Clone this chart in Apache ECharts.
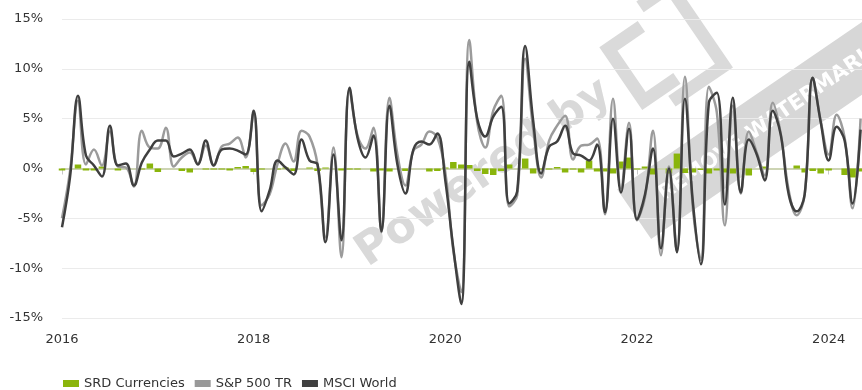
<!DOCTYPE html>
<html>
<head>
<meta charset="utf-8">
<script src="https://cdn.jsdelivr.net/npm/echarts@6/dist/echarts.min.js"></script>
<style>
  html, body { margin: 0; padding: 0; background: #ffffff; }
  #chart { width: 862px; height: 390px; }
</style>
</head>
<body>
<div id="chart"></div>
<script>
// Monthly returns (%) from January 2016 to May 2024
const firstMonth = { year: 2016, month: 1 };
const monthCount = 101;

const srdCurrencies = [
  -0.2, 0, 0.4, -0.2, -0.2, 0.2, 0, -0.2, 0, 0, -0.1, 0.5,
  -0.35, 0, 0, -0.25, -0.4, 0, -0.1, -0.1, -0.1, -0.2, 0.15, 0.25,
  -0.35, -0.1, 0, -0.1, 0.1, -0.25, 0, 0.1, -0.25, 0.1, 0, -0.2,
  -0.1, -0.1, 0, -0.3, -0.2, -0.3, 0, -0.25, 0, 0, -0.3, -0.25,
  0.1, 0.65, 0.4, 0.35, -0.25, -0.55, -0.65, -0.25, 0.4, 0, 1.0, -0.5,
  -0.1, -0.1, 0.15, -0.4, -0.1, -0.4, 0.8, -0.3, -0.3, -0.5, 0.7, 1.1,
  -0.1, 0.2, -0.6, 0, -0.5, 1.5, -0.45, -0.4, -0.15, -0.5, -0.2, -0.4,
  -0.5, 0, -0.7, 0, 0.2, 0, 0, 0, 0.3, -0.4, -0.25, -0.5,
  -0.2, 0, -0.65, -0.9, -0.3
];

const sp500TR = [
  -5.0, -0.3, 6.8, 0.4, 1.9, 0.3, 3.7, 0.2, 0.1, -1.8, 3.8, 2.1,
  2.0, 4.1, 0.2, 1.1, 1.6, 0.5, 2.3, 0.3, 2.2, 2.5, 3.1, 1.1,
  5.6, -3.7, -2.6, 0.5, 2.5, 0.7, 3.8, 3.2, 0.4, -6.9, 2.1, -8.9,
  8.0, 3.3, 2.0, 4.1, -6.4, 7.1, 1.4, -1.7, 1.8, 2.4, 3.7, 3.1,
  -0.4, -8.2, -12.4, 12.9, 4.6, 2.1, 5.8, 7.3, -3.8, -2.7, 11.0, 4.0,
  -0.9, 2.8, 4.3, 5.3, 0.9, 2.3, 2.4, 3.0, -4.6, 7.0, -2.0, 4.6,
  -5.2, -2.9, 3.8, -8.7, 0.2, -8.3, 9.2, -4.0, -9.2, 8.2, 5.6, -5.7,
  6.3, -2.5, 3.7, 1.6, -0.7, 6.6, 3.5, -2.2, -4.7, -2.6, 9.1, 4.8,
  1.4, 5.4, 3.1, -4.0, 5.0
];

const msciWorld = [
  -5.9, -0.9, 7.3, 1.3, 0.3, -0.8, 4.3, 0.3, 0.5, -1.7, 0.6, 1.9,
  2.8, 2.8, 1.2, 1.5, 1.9, 0.4, 2.8, 0.3, 1.9, 2.0, 1.8, 1.4,
  5.8, -4.3, -2.2, 0.8, 0.1, -0.6, 2.9, 0.8, 0.4, -7.4, 1.4, -7.2,
  8.1, 3.1, 1.1, 3.3, -6.3, 6.3, 0.4, -2.5, 1.9, 2.7, 2.4, 3.5,
  -1.2, -8.0, -13.6, 10.7, 5.0, 3.2, 5.2, 6.2, -3.5, -2.3, 12.3, 4.8,
  -0.5, 2.2, 2.7, 4.3, 1.5, 1.3, 0.8, 2.4, -4.4, 5.0, -2.4, 4.0,
  -5.1, -2.6, 2.0, -8.0, 0.0, -8.4, 7.0, -3.4, -9.6, 6.6, 7.6, -3.6,
  7.1, -2.4, 2.9, 1.4, -1.2, 5.8, 3.4, -2.6, -4.3, -2.6, 9.1, 4.7,
  0.8, 4.2, 2.8, -3.5, 3.9
];

const seriesNames = ['SRD Currencies', 'S&P 500 TR', 'MSCI World'];
const yTicks = { min: -15, max: 15, step: 5 };
const xTicks = { min: 2016, max: 2024.348, step: 2 };

// Month positions as fractional years (Jan = .0, Feb = 1/12, ...)
const monthPositions = [];
for (let i = 0; i < monthCount; i++) {
  const m = firstMonth.month - 1 + i;
  const year = firstMonth.year + Math.floor(m / 12);
  monthPositions.push(year + (m % 12) / 12);
}
const pair = (vals) => vals.map((v, i) => [monthPositions[i], v]);

const FONT = 'DejaVu Sans';
const chart = echarts.init(document.getElementById('chart'), null, { renderer: 'canvas' });

chart.setOption({
  animation: false,
  backgroundColor: '#ffffff',
  textStyle: { fontFamily: FONT },
  grid: { left: 62, right: 0, top: 19, bottom: 72, containLabel: false },
  legend: {
    data: seriesNames,
    left: 58,
    top: 372,
    icon: 'rect',
    itemWidth: 16,
    itemHeight: 7,
    itemGap: 10,
    textStyle: { fontFamily: FONT, fontSize: 13, color: '#333333' }
  },
  xAxis: {
    type: 'value',
    min: xTicks.min,
    max: xTicks.max,
    interval: xTicks.step,
    axisLine: { show: true, lineStyle: { color: '#c8c8c8', width: 2 } },
    axisTick: { show: true, length: 6, lineStyle: { color: '#c8c8c8', width: 1 } },
    axisLabel: {
      fontFamily: FONT, fontSize: 13, color: '#333333', margin: 15,
      showMaxLabel: false,
      formatter: (v) => String(Math.round(v))
    },
    splitLine: { show: false }
  },
  yAxis: {
    type: 'value',
    min: yTicks.min,
    max: yTicks.max,
    interval: yTicks.step,
    axisLine: { show: false },
    axisTick: { show: false },
    axisLabel: { fontFamily: FONT, fontSize: 13, color: '#333333', margin: 19, formatter: '{value}%' },
    splitLine: { show: true, lineStyle: { color: '#ebebeb', width: 1 } }
  },
  graphic: {
    elements: [
      {
        type: 'group',
        x: 368,
        y: 268,
        rotation: 0.6,
        z: -10,
        silent: true,
        children: [
          {
            type: 'rect',
            z: -10,
            shape: { x: 250, y: 76, width: 420, height: 60 },
            style: { fill: '#d7d7d7' }
          },
          {
            type: 'text',
            z: -9,
            style: {
              text: 'REMOVE WATERMARK', x: 282, y: 106,
              font: 'bold 21px "DejaVu Sans"', fill: '#ffffff', verticalAlign: 'middle', align: 'left'
            }
          },
          {
            type: 'text',
            z: -9,
            style: {
              text: 'Powered by', x: 0, y: 10,
              font: 'bold 45px "DejaVu Sans"', fill: '#d9d9d9', verticalAlign: 'bottom', align: 'left'
            }
          },
          {
            type: 'polyline',
            z: -9,
            shape: { points: [[362, -45], [322, -45], [322, 18], [362, 18]] },
            style: { stroke: '#dadada', lineWidth: 13, fill: null }
          },
          {
            type: 'polyline',
            z: -9,
            shape: { points: [[345, 34], [408, 34], [408, -62], [372, -62]] },
            style: { stroke: '#dadada', lineWidth: 13, fill: null }
          }
        ]
      }
    ]
  },
  series: [
    {
      name: seriesNames[0],
      type: 'bar',
      data: pair(srdCurrencies),
      barWidth: 6.5,
      itemStyle: { color: '#8ab50c' },
      z: 2,
      markLine: {
        silent: true,
        symbol: 'none',
        label: { show: false },
        lineStyle: { color: '#cdd4b4', width: 2, type: 'solid' },
        data: [{ yAxis: 0 }],
        z: 1
      }
    },
    {
      name: seriesNames[1],
      type: 'line',
      data: pair(sp500TR),
      smooth: 0.4,
      symbol: 'none',
      itemStyle: { color: '#999999' },
      lineStyle: { color: '#9b9b9b', width: 2.5 },
      z: 3
    },
    {
      name: seriesNames[2],
      type: 'line',
      data: pair(msciWorld),
      smooth: 0.4,
      symbol: 'none',
      itemStyle: { color: '#404040' },
      lineStyle: { color: '#3f3f3f', width: 2.5 },
      z: 4
    }
  ]
});
</script>
</body>
</html>
